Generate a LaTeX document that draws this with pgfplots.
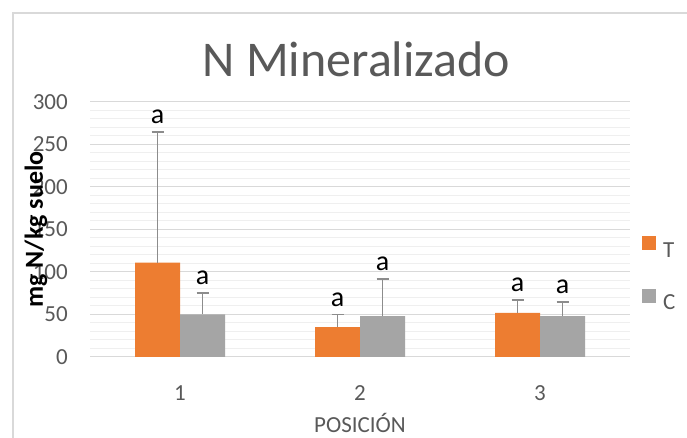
\documentclass[border=0pt]{standalone}
\usepackage{fontspec}
\setmainfont{Carlito}
\usepackage{pgfplots}
\pgfplotsset{compat=1.18}
\definecolor{cT}{HTML}{ED7D31}
\definecolor{cC}{HTML}{A5A5A5}
\definecolor{txt}{HTML}{595959}
\definecolor{gmaj}{HTML}{D9D9D9}
\definecolor{gmin}{HTML}{EFEFEF}
\definecolor{err}{HTML}{8C8C8C}
\pgfplotsset{frame/.style={at={(90bp,81bp)}, anchor=south west,
  scale only axis, width=540bp, height=255bp,
  xmin=0.5, xmax=3.5, ymin=0, ymax=300}}
\begin{document}
\begin{tikzpicture}[x=1bp,y=1bp]
\useasboundingbox (0,0) rectangle (687,438);
\fill[white] (0,0) rectangle (687,438);
\draw[gmaj, line width=1.5bp] (13,-10) -- (13,425) -- (700,425);
\begin{axis}[
  frame,
  ybar=0pt, bar width=0.25,
  xtick={1,2,3}, xticklabels={1,2,3},
  ytick={0,50,...,300}, minor y tick num=4,
  ymajorgrids, yminorgrids,
  major grid style={gmaj, line width=1bp},
  minor grid style={gmin, line width=1bp},
  axis line style={draw=none},
  tick style={draw=none},
  /pgf/number format/assume math mode=true,
  ticklabel style={font=\fontsize{23bp}{27bp}\selectfont, text=txt},
  yticklabel style={anchor=east, inner sep=0pt, xshift=-22bp},
  xticklabel style={anchor=north, inner sep=0pt, yshift=-24bp},
  title={N Mineralizado},
  title style={at={(axis description cs:0.5,1)}, anchor=base, yshift=20bp, xshift=-3.5bp,
    font=\fontsize{50bp}{56bp}\selectfont, text=txt, inner sep=0pt},
  xlabel={POSICIÓN},
  xlabel style={at={(axis description cs:0.5,0)}, anchor=base, yshift=-76bp, inner sep=0pt,
    font=\fontsize{23bp}{27bp}\selectfont, text=txt},
  ylabel={mg N/kg suelo},
  ylabel style={at={(axis description cs:-0.1,0.5)}, anchor=center, rotate=0, inner sep=0pt,
    font=\fontsize{26bp}{30bp}\selectfont\bfseries, text=black},
  legend style={at={(1.022,0.327)}, anchor=west, draw=none, fill=none, inner sep=0pt,
    nodes={inner xsep=7bp, inner ysep=0pt},
    font=\fontsize{23bp}{27bp}\selectfont, text=txt, row sep=30bp, legend cell align=left},
  legend image code/.code={\fill[#1] (0bp,0bp) rectangle (14bp,14bp);},
]
\addplot[fill=cT, draw=none,
  error bars/.cd, y dir=plus, y explicit,
  error bar style={err, line width=1.6bp},
  error mark options={err, line width=1.6bp, mark size=6bp, rotate=90}]
  coordinates {(1,111) +- (0,154) (2,35) +- (0,15) (3,52) +- (0,15)};
\addlegendentry{T}
\addplot[fill=cC, draw=none,
  error bars/.cd, y dir=plus, y explicit,
  error bar style={err, line width=1.6bp},
  error mark options={err, line width=1.6bp, mark size=6bp, rotate=90}]
  coordinates {(1,50) +- (0,25) (2,48) +- (0,44) (3,48) +- (0,17)};
\addlegendentry{C}
\end{axis}
% significance letters at the tops of the error bars
\begin{axis}[frame, hide axis,
  every node near coord/.append style={font=\fontsize{28bp}{32bp}\selectfont, text=black, anchor=south, inner sep=0pt, yshift=8bp}]
\addplot[sharp plot, draw=none, mark=none, nodes near coords={a}]
  coordinates {(0.875,265) (1.125,75) (1.875,50) (2.125,92) (2.875,67) (3.125,65)};
\end{axis}
\end{tikzpicture}
\end{document}
